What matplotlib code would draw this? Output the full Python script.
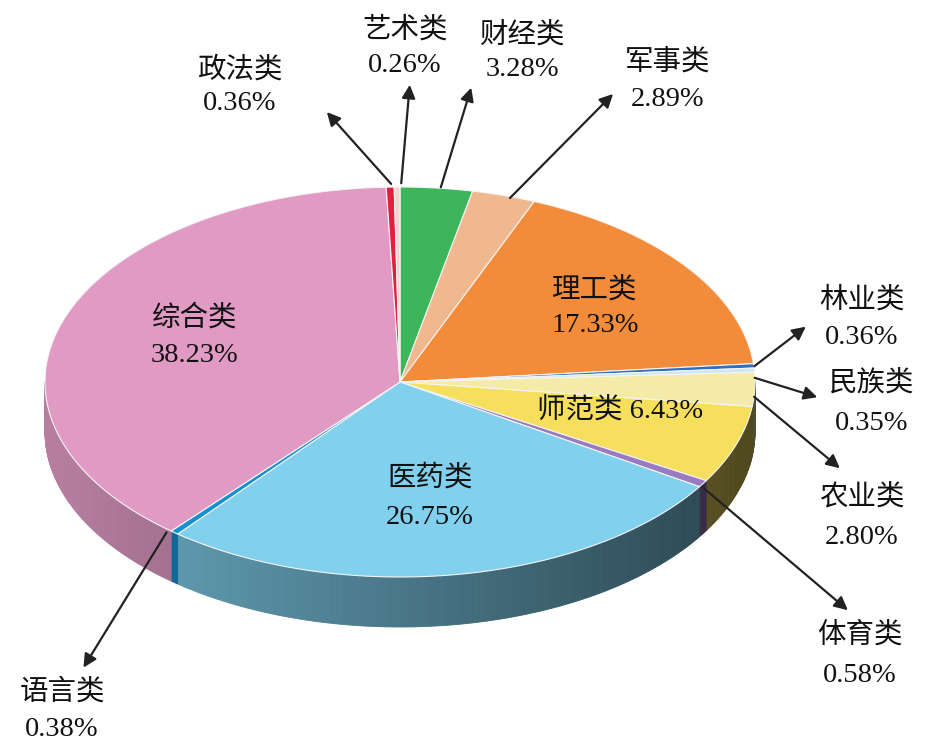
import numpy as np
import matplotlib
matplotlib.use("Agg")
import matplotlib.pyplot as plt
from matplotlib.patches import Polygon

categories = ["财经类", "军事类", "理工类", "林业类", "民族类", "农业类", "师范类",
              "体育类", "医药类", "语言类", "综合类", "政法类", "艺术类"]
values = [3.28, 2.89, 17.33, 0.36, 0.35, 2.80, 6.43, 0.58, 26.75, 0.38, 38.23, 0.36, 0.26]
colors = ["#3db55a", "#f0b88e", "#f28c3a", "#2f6fc0", "#cde8f0", "#f5eba8", "#f7df5e",
          "#9a7ac0", "#80d0ee", "#1590d0", "#e09ac4", "#e02040", "#f2d4d4"]

cx, cy, rx, ry, depth = 400, 382, 355, 195, 50
FONT = ['Liberation Serif', 'Noto Sans CJK SC']

fig = plt.figure(figsize=(9.36, 7.44), dpi=100)
ax = fig.add_axes([0, 0, 1, 1])
ax.set_xlim(0, 936); ax.set_ylim(744, 0); ax.axis('off')

frac = np.array(values) / sum(values)
edges = 90 - np.concatenate([[0], np.cumsum(frac)]) * 360

def pt(t, dy=0):
    r = np.radians(t)
    return cx + rx*np.cos(r), cy - ry*np.sin(r) + dy

for i, c in enumerate(colors):
    a0, a1 = edges[i], edges[i+1]
    ts = np.linspace(a0, a1, max(3, int(abs(a1-a0)*2)))
    base = np.array(matplotlib.colors.to_rgb(c))
    for t0, t1 in zip(ts[:-1], ts[1:]):
        if np.sin(np.radians((t0+t1)/2)) > 0:
            continue
        x0, y0 = pt(t0); x1, y1 = pt(t1)
        f = 0.82 - 0.5*((x0+x1)/2 - (cx-rx))/(2*rx)
        col = np.clip(base*f, 0, 1)
        ax.add_patch(Polygon([(x0, y0), (x1, y1), (x1, y1+depth), (x0, y0+depth)],
                             closed=True, facecolor=col, edgecolor=col, lw=0.6))

for i, c in enumerate(colors):
    ts = np.linspace(edges[i], edges[i+1], 100)
    pts = [(cx, cy)] + [pt(t) for t in ts]
    ax.add_patch(Polygon(pts, closed=True, facecolor=c, edgecolor="#f4f4f4", lw=0.8))

def lab(txt, x, y, size=20.5):
    ax.text(x, y, txt, ha='center', va='center', fontsize=size, family=FONT, color='#111')

def arrow(p0, p1):
    ax.annotate("", xy=p1, xytext=p0,
                arrowprops=dict(arrowstyle="-|>", color="#222", lw=1.6, mutation_scale=20))

inside = {"综合类": (195, 318, 355), "理工类": (595, 290, 325), "医药类": (430, 478, 518)}
for k, (x, y1, y2) in inside.items():
    i = categories.index(k)
    lab(k, x, y1); lab(f"{values[i]:.2f}%", x, y2)
lab(f"师范类 {values[categories.index('师范类')]:.2f}%", 620, 410)

outside = {
    "政法类": ((240, 70, 103), (393, 186), (325, 110)),
    "艺术类": ((405, 30, 66), (401, 186), (410, 82)),
    "财经类": ((522, 35, 70), (440, 190), (472, 85)),
    "军事类": ((668, 62, 100), (508, 200), (615, 92)),
    "林业类": ((862, 300, 338), (752, 368), (808, 325)),
    "民族类": ((872, 383, 423), (752, 377), (820, 398)),
    "农业类": ((862, 497, 538), (752, 395), (842, 470)),
    "体育类": ((860, 635, 675), (700, 485), (850, 612)),
    "语言类": ((62, 692, 730), (168, 530), (82, 670)),
}
for k, ((x, y1, y2), p0, p1) in outside.items():
    i = categories.index(k)
    lab(k, x, y1); lab(f"{values[i]:.2f}%", x, y2)
    arrow(p0, p1)

fig.savefig("out.png", dpi=100)
